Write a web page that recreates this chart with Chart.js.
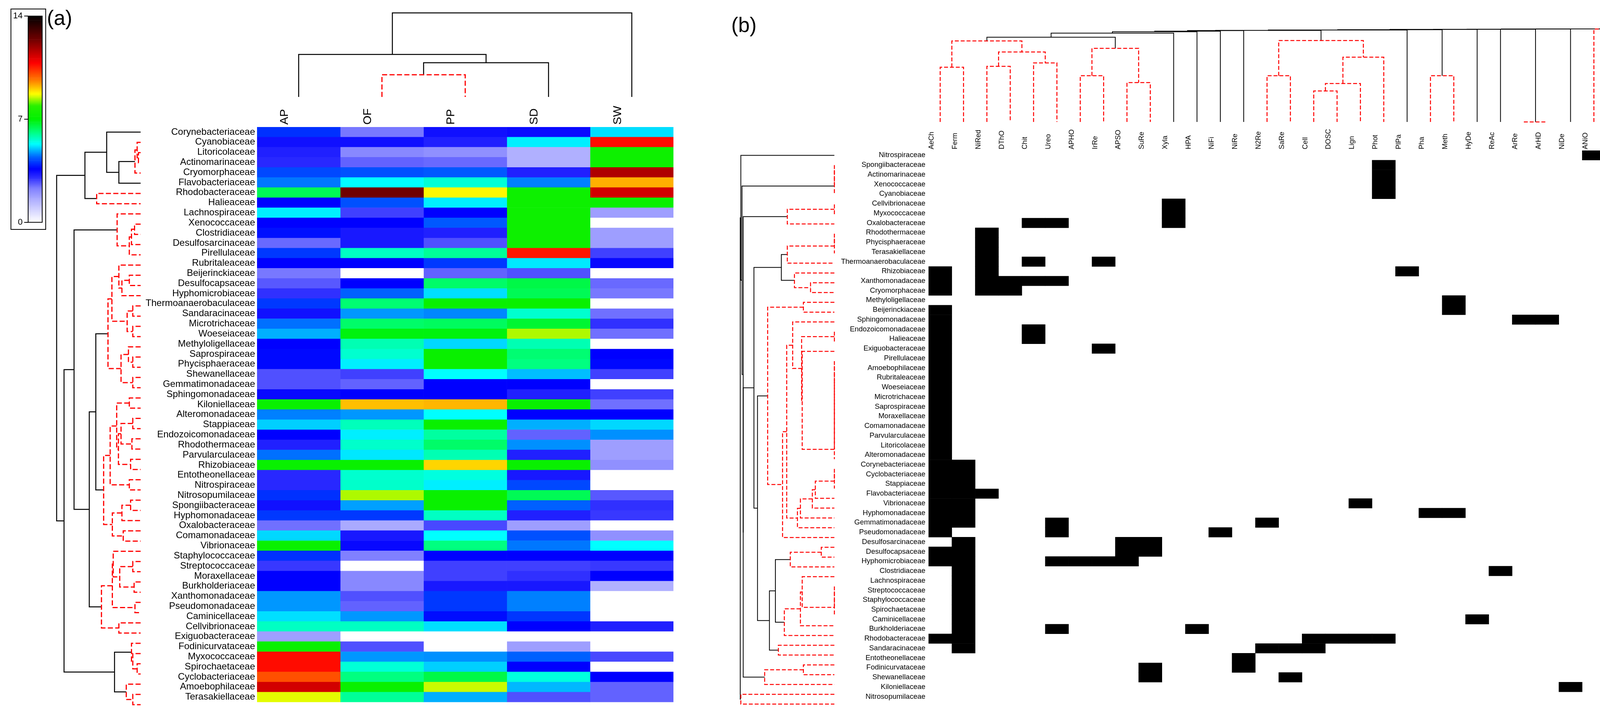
<!DOCTYPE html>
<html>
<head>
<meta charset="utf-8">
<script src="https://cdn.jsdelivr.net/npm/chart.js@4.4.0/dist/chart.umd.min.js"></script>
<style>
  body { margin: 0; background: #fff; }
  #page { position: relative; width: 4211px; height: 1855px; overflow: hidden; background: #fff;
          font-family: "Liberation Sans", Arial, sans-serif; }
  canvas, .box, .tag { position: absolute; }
  .tag { font-size: 53px; line-height: 1; }
  .box { border: 2px solid #000; box-sizing: border-box; }
</style>
</head>
<body>
<div id="page">
  <div class="box" style="left:27px;top:22px;width:91px;height:566px"></div>
  <div class="tag" style="left:120px;top:19px">(a)</div>
  <div class="tag" style="left:1872px;top:37px">(b)</div>
</div>
<script>
// ---------- panel (a): relative abundance heatmap ----------
const samplesA = ['AP', 'OF', 'PP', 'SD', 'SW'];
const familiesA = ['Corynebacteriaceae', 'Cyanobiaceae', 'Litoricolaceae', 'Actinomarinaceae', 'Cryomorphaceae',
  'Flavobacteriaceae', 'Rhodobacteraceae', 'Halieaceae', 'Lachnospiraceae', 'Xenococcaceae', 'Clostridiaceae',
  'Desulfosarcinaceae', 'Pirellulaceae', 'Rubritaleaceae', 'Beijerinckiaceae', 'Desulfocapsaceae',
  'Hyphomicrobiaceae', 'Thermoanaerobaculaceae', 'Sandaracinaceae', 'Microtrichaceae', 'Woeseiaceae',
  'Methyloligellaceae', 'Saprospiraceae', 'Phycisphaeraceae', 'Shewanellaceae', 'Gemmatimonadaceae',
  'Sphingomonadaceae', 'Kiloniellaceae', 'Alteromonadaceae', 'Stappiaceae', 'Endozoicomonadaceae',
  'Rhodothermaceae', 'Parvularculaceae', 'Rhizobiaceae', 'Entotheonellaceae', 'Nitrospiraceae',
  'Nitrosopumilaceae', 'Spongiibacteraceae', 'Hyphomonadaceae', 'Oxalobacteraceae', 'Comamonadaceae',
  'Vibrionaceae', 'Staphylococcaceae', 'Streptococcaceae', 'Moraxellaceae', 'Burkholderiaceae',
  'Xanthomonadaceae', 'Pseudomonadaceae', 'Caminicellaceae', 'Cellvibrionaceae', 'Exiguobacteraceae',
  'Fodinicurvataceae', 'Myxococcaceae', 'Spirochaetaceae', 'Cyclobacteriaceae', 'Amoebophilaceae',
  'Terasakiellaceae'];

const valAP = [4.0, 3.4, 3.2, 3.1, 4.2, 4.53, 6.4, 3.6, 5.21, 3.6, 3.73, 2.5, 4.07, 3.6, 2.37, 2.65, 3.0, 4.07,
  3.4, 4.49, 4.85, 3.6, 3.67, 3.67, 2.72, 2.72, 3.5, 7.2, 4.58, 5.03, 3.6, 3.2, 4.49, 7.2, 3.1, 3.1, 4.0, 3.4,
  4.07, 2.44, 5.08, 7.2, 4.0, 2.93, 3.6, 3.6, 4.71, 4.71, 5.12, 5.68, 1.8, 7.2, 10.7, 10.7, 10.05, 11.3, 8.6];
const valOF = [2.37, 3.4, 2.17, 2.56, 4.27, 5.3, 12.4, 4.27, 2.86, 3.6, 3.3, 3.3, 5.68, 3.6, 0, 3.6, 4.4, 6.2,
  4.71, 6.27, 6.9, 5.78, 5.6, 5.21, 2.86, 2.56, 3.6, 9.15, 4.71, 5.73, 5.21, 5.63, 5.17, 7.2, 5.6, 5.63, 8.4,
  4.76, 4.07, 1.6, 3.3, 3.5, 2.3, 0, 2.17, 2.17, 2.72, 2.56, 4.71, 5.68, 0, 2.72, 4.71, 5.55, 6.1, 7.2, 5.95];
const valPP = [3.4, 3.2, 2.03, 2.5, 4.33, 5.55, 8.75, 5.21, 3.6, 4.33, 3.2, 2.72, 5.95, 4.07, 2.56, 6.27, 5.12,
  7.2, 4.62, 6.34, 6.9, 5.08, 7.2, 7.2, 5.3, 3.6, 3.6, 9.22, 5.3, 7.2, 5.9, 6.27, 5.78, 9.0, 5.5, 5.21, 7.2, 7.2,
  5.68, 2.79, 5.3, 6.1, 3.6, 2.86, 2.86, 3.3, 4.07, 4.07, 3.7, 5.12, 0, 0, 4.67, 5.03, 6.5, 8.5, 4.85];
const valSD = [3.47, 5.21, 1.5, 1.5, 3.2, 4.58, 7.3, 7.3, 7.3, 7.3, 7.3, 7.3, 10.6, 5.17, 2.72, 6.5, 6.4, 7.2,
  5.6, 6.65, 8.4, 5.78, 6.2, 6.1, 4.94, 3.6, 3.2, 7.2, 3.6, 4.85, 2.56, 4.67, 3.2, 7.2, 3.3, 4.2, 6.4, 4.4, 3.2,
  1.8, 4.27, 4.53, 3.6, 2.86, 3.0, 3.3, 4.58, 4.58, 4.05, 3.6, 0, 1.8, 4.4, 3.6, 5.5, 4.9, 2.72];
const valSW = [5.12, 10.7, 7.3, 7.3, 11.7, 9.26, 11.3, 7.2, 1.8, 0, 1.8, 1.8, 2.86, 3.5, 0, 2.5, 2.37, 0, 2.44,
  3.0, 2.44, 0, 3.6, 3.67, 2.86, 0, 2.86, 2.44, 3.6, 5.08, 4.67, 1.8, 1.8, 2.03, 0, 0, 2.65, 3.0, 2.93, 0, 2.03,
  5.3, 3.6, 2.93, 3.6, 1.5, 0, 0, 0, 3.2, 0, 0, 2.79, 0, 3.6, 2.56, 2.56];
const colorTicks = [0, 7, 14];

// colour scale (value -> rgb)
const cmapStops = [
  [0, [255, 255, 255]], [1.5, [176, 176, 255]], [2.3, [128, 128, 255]], [3.0, [48, 48, 255]],
  [3.6, [0, 0, 255]], [4.4, [0, 96, 255]], [5.3, [0, 255, 255]], [6.1, [0, 255, 128]],
  [7.0, [0, 240, 0]], [7.9, [40, 240, 0]], [8.7, [255, 255, 0]], [9.6, [255, 128, 0]],
  [10.8, [255, 0, 0]], [12.4, [112, 0, 0]], [14, [0, 0, 0]]
];

// dendrogram nodes: [left, right, merge height, 'k' solid black | 'r' dashed red]; leaves = index
const flat = (list, h, s) => list.slice(1).reduce((acc, n) => [acc, n, h, s], list[0]);

const aA = [[0, [[[1, [2, 3, 5, 'r'], 8, 'r'], 4, 13, 'r'], 5, 50, 'k'], 78, 'k'], [6, 7, 101, 'r'], 128, 'k'];
const aB = [8, [[[9, 10, 14, 'r'], 11, 21, 'r'], 12, 26, 'r'], 54, 'r'];
const aC = [[[13, [[14, 15, 26, 'r'], 16, 43, 'r'], 50, 'r'], [[17, 18, 18, 'r'], [19, 20, 18, 'r'], 31, 'r'], 66, 'r'],
  [[21, [22, 23, 18, 'r'], 28, 'r'], [24, 25, 18, 'r'], 45, 'r'], 75, 'r'];
const aD = [[[26, 27, 26, 'r'], [[[28, 29, 18, 'r'], [30, 31, 20, 'r'], 45, 'r'], [32, 33, 23, 'r'], 51, 'r'], 55, 'r'],
  [34, 35, 26, 'r'], 70, 'r'];
const aE = [[[36, 37, 23, 'r'], 38, 43, 'r'], [39, 40, 40, 'r'], 65, 'r'];
const aF = [[[41, [[42, 43, 18, 'r'], [44, 45, 15, 'r'], 48, 'r'], 63, 'r'], [46, 47, 13, 'r'], 65, 'r'],
  [48, 49, 50, 'r'], 90, 'r'];
const aG = [[50, [51, [52, 53, 8, 'r'], 18, 'r'], 21, 'r'], [54, [55, 56, 18, 'r'], 33, 'r'], 60, 'k'];
const treeRowsA = [aA, [[aB, [[aC, [aD, aE, 85, 'r'], 103, 'k'], aF, 118, 'k'], 153, 'k'], aG, 176, 'k'], 193, 'k'];
const treeColsA = [[0, [[1, 2, 48, 'r'], 3, 74, 'k'], 92, 'k'], 4, 182, 'k'];

// ---------- panel (b): functional traits ----------
const functionsB = ['AeCh', 'Ferm', 'NiRed', 'DThO', 'Chit', 'Ureo', 'APHO', 'IrRe', 'APSO', 'SuRe', 'Xyla',
  'HPA', 'NiFi', 'NiRe', 'N2Re', 'SaRe', 'Cell', 'DOSC', 'Lign', 'Phot', 'PlPa', 'Pha', 'Meth', 'HyDe', 'ReAc',
  'ArRe', 'ArHD', 'NiDe', 'ANiO', 'AeAO'];
const familiesB = ['Nitrospiraceae', 'Spongiibacteraceae', 'Actinomarinaceae', 'Xenococcaceae', 'Cyanobiaceae',
  'Cellvibrionaceae', 'Myxococcaceae', 'Oxalobacteraceae', 'Rhodothermaceae', 'Phycisphaeraceae',
  'Terasakiellaceae', 'Thermoanaerobaculaceae', 'Rhizobiaceae', 'Xanthomonadaceae', 'Cryomorphaceae',
  'Methyloligellaceae', 'Beijerinckiaceae', 'Sphingomonadaceae', 'Endozoicomonadaceae', 'Halieaceae',
  'Exiguobacteraceae', 'Pirellulaceae', 'Amoebophilaceae', 'Rubritaleaceae', 'Woeseiaceae', 'Microtrichaceae',
  'Saprospiraceae', 'Moraxellaceae', 'Comamonadaceae', 'Parvularculaceae', 'Litoricolaceae', 'Alteromonadaceae',
  'Corynebacteriaceae', 'Cyclobacteriaceae', 'Stappiaceae', 'Flavobacteriaceae', 'Vibrionaceae',
  'Hyphomonadaceae', 'Gemmatimonadaceae', 'Pseudomonadaceae', 'Desulfosarcinaceae', 'Desulfocapsaceae',
  'Hyphomicrobiaceae', 'Clostridiaceae', 'Lachnospiraceae', 'Streptococcaceae', 'Staphylococcaceae',
  'Spirochaetaceae', 'Caminicellaceae', 'Burkholderiaceae', 'Rhodobacteraceae', 'Sandaracinaceae',
  'Entotheonellaceae', 'Fodinicurvataceae', 'Shewanellaceae', 'Kiloniellaceae', 'Nitrosopumilaceae'];
const traitsB = [
  ['ANiO'], ['Phot'], ['Phot'], ['Phot'], ['Phot'], ['Xyla'], ['Xyla'], ['Chit', 'Ureo', 'Xyla'],
  ['NiRed'], ['NiRed'], ['NiRed'], ['NiRed', 'Chit', 'IrRe'], ['AeCh', 'NiRed', 'PlPa'],
  ['AeCh', 'NiRed', 'DThO', 'Chit', 'Ureo'], ['AeCh', 'NiRed', 'DThO'], ['Meth'], ['AeCh', 'Meth'],
  ['AeCh', 'ArRe', 'ArHD'], ['AeCh', 'Chit'], ['AeCh', 'Chit'], ['AeCh', 'IrRe'],
  ['AeCh'], ['AeCh'], ['AeCh'], ['AeCh'], ['AeCh'], ['AeCh'], ['AeCh'], ['AeCh'], ['AeCh'], ['AeCh'], ['AeCh'],
  ['AeCh', 'Ferm'], ['AeCh', 'Ferm'], ['AeCh', 'Ferm'], ['AeCh', 'Ferm', 'NiRed'], ['AeCh', 'Ferm', 'Lign'],
  ['AeCh', 'Ferm', 'Pha', 'Meth'], ['AeCh', 'Ferm', 'Ureo', 'N2Re'], ['AeCh', 'Ureo', 'NiFi'],
  ['Ferm', 'APSO', 'SuRe'], ['AeCh', 'Ferm', 'APSO', 'SuRe'], ['AeCh', 'Ferm', 'Ureo', 'APHO', 'IrRe', 'APSO'],
  ['Ferm', 'ReAc'], ['Ferm'], ['Ferm'], ['Ferm'], ['Ferm'], ['Ferm', 'HyDe'], ['Ferm', 'Ureo', 'HPA'],
  ['AeCh', 'Ferm', 'Cell', 'DOSC', 'Lign', 'Phot'], ['Ferm', 'N2Re', 'SaRe', 'Cell'], ['NiRe'],
  ['NiRe', 'SuRe'], ['SuRe', 'SaRe'], ['NiDe'], ['AeAO']
];

const bP1 = flat([1, 2, 3, 4], 0, 'r');
const bP2 = [flat([5, 6], 0, 'r'), 7, 79, 'r'];
const bP3 = [[flat([8, 9, 10], 0, 'r'), 11, 79, 'r'], [12, [13, 14, 40, 'r'], 67, 'r'], 89, 'k'];
const bQ5 = [17, [flat([18, 19], 0, 'r'), [20, flat([21, 22, 23, 24, 25, 26, 27, 28, 29, 30, 31], 0, 'r'), 54, 'r'], 55, 'r'], 70, 'r'];
const bQ9 = [[[[flat([32, 33, 34], 0, 'r'), 35, 32, 'r'], 36, 37, 'r'], 37, 57, 'r'], 38, 62, 'r'];
const bQ = [[15, 16, 52, 'r'], [[bQ5, bQ9, 80, 'r'], 39, 87, 'r'], 112, 'r'];
const bR = [[[[40, 41, 22, 'r'], 42, 74, 'r'], [[[43, flat([44, 45, 46, 47], 0, 'r'), 54, 'r'], 48, 57, 'r'], 49, 84, 'r'], 99, 'k'],
  [50, 51, 94, 'r'], 109, 'k'];
const bX = [bP3, [bQ, bR, 129, 'k'], 135, 'k'];
const bP6 = [[52, 53, 52, 'r'], 54, 117, 'r'];
const bTop = [0, [bP1, [bP2, [bX, bP6, 153, 'k'], 153, 'k'], 155, 'k'], 157, 'k'];
const treeRowsB = [bTop, [55, 56, 157, 'r'], 158, 'k'];

const bcLeft = [[[0, 1, 420, 'r'], [[2, 3, 427, 'r'], [4, 5, 453, 'r'], 537, 'r'], 622, 'r'],
  [[6, 7, 355, 'r'], [8, 9, 302, 'r'], 565, 'r'], 650, 'k'];
const bcMid = [[14, 15, 355, 'r'], [[[16, 17, 238, 'r'], 18, 295, 'r'], 19, 497, 'r'], 625, 'r'];
const chainB = [[10, 682], [11, 692], [12, 697], [13, 701], [bcMid, 703], [20, 706], [[21, 22, 355, 'r'], 708],
  [23, 710], [24, 711], [[25, 26, 0, 'r'], 712], [27, 713], [[28, 29, 713, 'r'], 714]];
const treeColsB = chainB.reduce((acc, [n, h]) => [acc, n, h, 'k'], bcLeft);

// ---------- drawing ----------
Chart.defaults.font.family = '"Liberation Sans", Arial, sans-serif';
Chart.defaults.color = '#000';
Chart.defaults.animation = false;
Chart.defaults.plugins.legend.display = false;
Chart.defaults.plugins.tooltip.enabled = false;

const page = document.getElementById('page');
function canvasAt(left, top, width, height) {
  const c = document.createElement('canvas');
  c.width = width; c.height = height;
  c.style.left = left + 'px'; c.style.top = top + 'px';
  c.style.width = width + 'px'; c.style.height = height + 'px';
  page.appendChild(c);
  return c;
}
const base = { responsive: false, maintainAspectRatio: false, devicePixelRatio: 1 };
const noGrid = { display: false, drawTicks: false };

function cmap(v) {
  for (let i = 1; i < cmapStops.length; i++) {
    const [v1, c1] = cmapStops[i];
    if (v <= v1) {
      const [v0, c0] = cmapStops[i - 1];
      const t = (v - v0) / (v1 - v0);
      const c = c0.map((x, k) => Math.round(x + (c1[k] - x) * t));
      return `rgb(${c[0]},${c[1]},${c[2]})`;
    }
  }
  return 'rgb(0,0,0)';
}

// heatmap (a)
const valuesA = [valAP, valOF, valPP, valSD, valSW];
new Chart(canvasAt(270, 255, 1454, 1561), {
  type: 'bar',
  data: {
    labels: familiesA,
    datasets: valuesA.map((vals, c) => ({
      data: vals.map(() => [c, c + 1]),
      backgroundColor: vals.map(cmap),
      grouped: false, barPercentage: 1, categoryPercentage: 1, borderWidth: 0
    }))
  },
  options: {
    ...base, indexAxis: 'y',
    scales: {
      x: { type: 'linear', min: 0, max: 5, display: false },
      x2: { type: 'category', axis: 'x', labels: samplesA, offset: true, position: 'top',
            grid: noGrid, border: { display: false },
            ticks: { font: { size: 30 }, minRotation: 90, maxRotation: 90, padding: 6 },
            afterFit: s => { s.height = 70; } },
      y: { grid: noGrid, border: { display: false },
           ticks: { font: { size: 24 }, autoSkip: false, padding: 5 },
           afterFit: s => { s.width = 388; } }
    }
  }
});

// colour bar
const barSteps = Array.from({ length: 140 }, (_, i) => i / 10);
new Chart(canvasAt(20, 24, 96, 562), {
  type: 'bar',
  data: {
    labels: [''],
    datasets: barSteps.map(v => ({
      data: [[v, v + 0.1]], backgroundColor: cmap(v + 0.05),
      grouped: false, barPercentage: 1, categoryPercentage: 1, borderWidth: 0
    }))
  },
  options: {
    ...base,
    layout: { padding: { top: 14, bottom: 14, right: 8 } },
    scales: {
      x: { display: false },
      y: { min: colorTicks[0], max: colorTicks[2], ticks: { stepSize: colorTicks[1], font: { size: 22 }, padding: 4 },
           grid: { drawOnChartArea: false, drawTicks: true, tickLength: 10, color: '#000', lineWidth: 2 },
           border: { display: false },
           afterFit: s => { s.width = 52; } }
    }
  },
  plugins: [{
    id: 'outline',
    afterDatasetsDraw(chart) {
      const { ctx, chartArea: a } = chart;
      ctx.save();
      ctx.lineWidth = 2; ctx.strokeStyle = '#000';
      ctx.strokeRect(a.left, a.top, a.right - a.left, a.bottom - a.top);
      ctx.restore();
    }
  }]
});

// trait matrix (b)
new Chart(canvasAt(2100, 300, 2070, 1514), {
  type: 'bar',
  data: {
    labels: familiesB,
    datasets: functionsB.map((f, j) => ({
      data: traitsB.map(t => (t.includes(f) ? [j, j + 1] : null)),
      backgroundColor: '#000', grouped: false, barPercentage: 1, categoryPercentage: 1, borderWidth: 0
    }))
  },
  options: {
    ...base, indexAxis: 'y',
    scales: {
      x: { type: 'linear', min: 0, max: functionsB.length, display: false },
      x2: { type: 'category', axis: 'x', labels: functionsB, offset: true, position: 'top',
            grid: noGrid, border: { display: false },
            ticks: { font: { size: 18 }, minRotation: 90, maxRotation: 90, padding: 3 },
            afterFit: s => { s.height = 85; } },
      y: { grid: noGrid, border: { display: false },
           ticks: { font: { size: 18.5 }, autoSkip: false, padding: 8 },
           afterFit: s => { s.width = 277; } }
    }
  }
});

// dendrograms
function layoutTree(node, out) {
  if (typeof node === 'number') return { pos: node, h: 0 };
  const [l, r, h, s] = node;
  const a = layoutTree(l, out), b = layoutTree(r, out);
  out.push({ pts: [[a.pos, a.h], [a.pos, h], [b.pos, h], [b.pos, b.h]], s });
  return { pos: (a.pos + b.pos) / 2, h };
}

function dendrogram(canvas, tree, rowwise, leaves, hMax, st) {
  const segs = [];
  layoutTree(tree, segs);
  const datasets = segs.map(sg => ({
    data: sg.pts.map(p => (rowwise ? { x: p[1], y: p[0] } : { x: p[0], y: p[1] })),
    showLine: true, pointRadius: 0, tension: 0, clip: false,
    borderColor: sg.s === 'r' ? '#ff0000' : '#000000',
    borderWidth: sg.s === 'r' ? st.red : st.black,
    borderDash: sg.s === 'r' ? st.dash : [],
    borderCapStyle: 'butt', borderJoinStyle: 'miter'
  }));
  const posAxis = { type: 'linear', min: -0.5, max: leaves - 0.5, display: false, reverse: rowwise };
  const hAxis = { type: 'linear', min: 0, max: hMax, display: false, reverse: rowwise };
  new Chart(canvas, {
    type: 'scatter',
    data: { datasets },
    options: {
      ...base,
      layout: { padding: 6 },
      scales: rowwise ? { x: hAxis, y: posAxis } : { x: posAxis, y: hAxis }
    }
  });
}

const styleA = { black: 2.5, red: 3, dash: [13, 6] };
const styleB = { black: 2, red: 2.5, dash: [10, 5] };
dendrogram(canvasAt(139, 319, 227, 1503), treeRowsA, true, familiesA.length, 193, styleA);
dendrogram(canvasAt(652, 27, 1078, 227), treeColsA, false, samplesA.length, 182, styleA);
dendrogram(canvasAt(1889, 379, 253, 1441), treeRowsB, true, familiesB.length, 158, styleB);
dendrogram(canvasAt(2371, 68, 1805, 250), treeColsB, false, functionsB.length, 714, styleB);
</script>
</body>
</html>
